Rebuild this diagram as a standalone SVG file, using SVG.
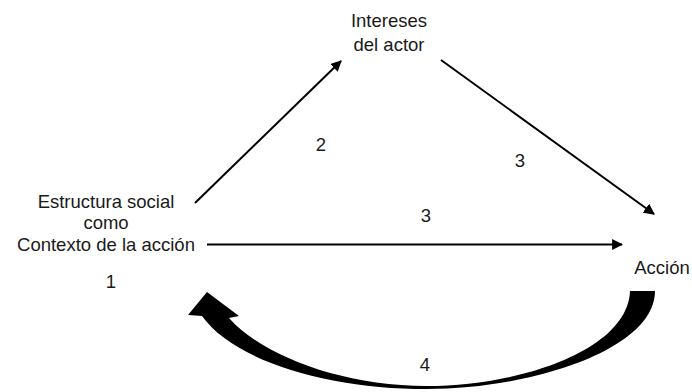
<svg xmlns="http://www.w3.org/2000/svg" width="692" height="392" viewBox="0 0 692 392">
  <style>
    text { font-family: "Liberation Sans", Arial, sans-serif; font-size: 18.5px; fill: #1a1a1a; text-anchor: middle; }
    .edge { stroke: #000; stroke-width: 2; fill: none; marker-end: url(#head); }
  </style>
  <defs>
    <marker id="head" viewBox="0 0 10 10" refX="9" refY="5" markerWidth="5.5" markerHeight="5.5" orient="auto" markerUnits="strokeWidth">
      <path d="M0,0 L10,5 L0,10 Z" fill="#000"/>
    </marker>
  </defs>

  <rect width="692" height="392" fill="#fff"/>

  <g id="intereses">
    <text x="389" y="27">Intereses</text>
    <text x="389" y="51">del actor</text>
  </g>

  <g id="estructura">
    <text x="106" y="208">Estructura social</text>
    <text x="106" y="229">como</text>
    <text x="106" y="251">Contexto de la acción</text>
    <text x="111" y="288">1</text>
  </g>

  <g id="accion">
    <text x="662" y="274">Acción</text>
  </g>

  <g id="connectors">
    <line class="edge" x1="195" y1="203" x2="341" y2="61"/>
    <line class="edge" x1="441" y1="60" x2="654" y2="214"/>
    <line class="edge" x1="207" y1="244.5" x2="622" y2="244.5"/>
    <!-- feedback arc from Acción back to the social structure -->
    <path d="M655,291 C655,350 530,389 427,389 C330,389 235,362 202,316 L188,315 L207,292 L239,316 L229,318 C262,355 340,386 427,386 C520,386 628,350 630,291 Z" fill="#000"/>
    <text x="321" y="151">2</text>
    <text x="520" y="167">3</text>
    <text x="426" y="222">3</text>
    <text x="425" y="371">4</text>
  </g>
</svg>
